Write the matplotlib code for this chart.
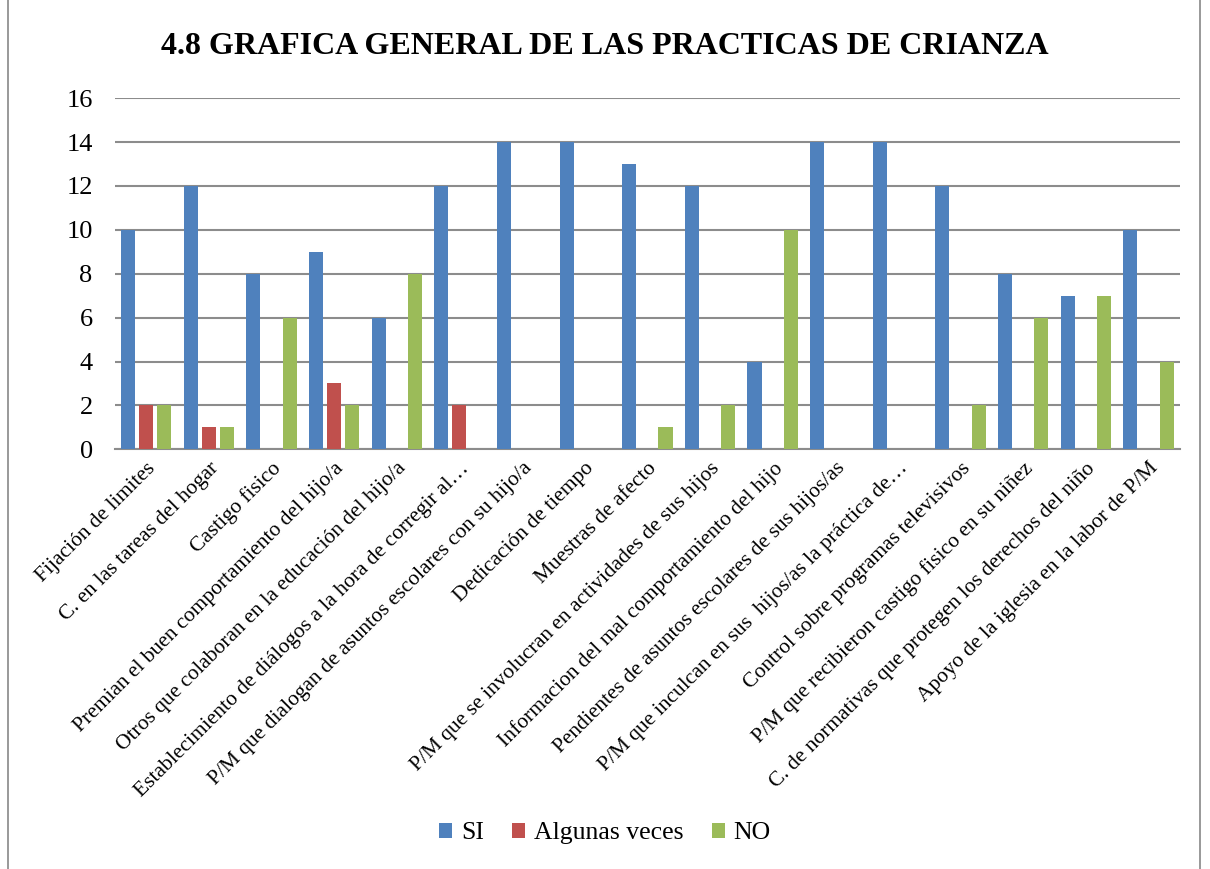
import numpy as np
import matplotlib.pyplot as plt
from matplotlib.patches import Rectangle

plt.rcParams['font.family'] = 'serif'
plt.rcParams['font.serif'] = ['Liberation Serif']
SERIF = 'Liberation Serif'

# Categories and values
categories = [
    "Fijación de limites",
    "C. en las tareas del hogar",
    "Castigo fisico",
    "Premian el buen comportamiento del hijo/a",
    "Otros que colaboran en la educación del hijo/a",
    "Establecimiento de diálogos a la hora de corregir al…",
    "P/M que dialogan de asuntos escolares con su hijo/a",
    "Dedicación de tiempo",
    "Muestras de afecto",
    "P/M que se involucran en actividades de sus hijos",
    "Informacion del mal comportamiento del hijo",
    "Pendientes de asuntos escolares de sus hijos/as",
    "P/M que inculcan en sus  hijos/as la práctica de…",
    "Control sobre programas televisivos",
    "P/M que recibieron castigo fisico en su niñez",
    "C. de normativas que protegen los derechos del niño",
    "Apoyo de la iglesia en la labor de P/M",
]
si = [10, 12, 8, 9, 6, 12, 14, 14, 13, 12, 4, 14, 14, 12, 8, 7, 10]
algunas = [2, 1, 0, 3, 0, 2, 0, 0, 0, 0, 0, 0, 0, 0, 0, 0, 0]
no = [2, 1, 6, 2, 8, 0, 0, 0, 1, 2, 10, 0, 0, 2, 6, 7, 4]

fig = plt.figure(figsize=(12.1, 8.69), dpi=100)
ax = fig.add_axes([0.095, 0.483, 0.880, 0.404])

x = np.arange(len(categories))
w = 0.225
step = 0.29
ax.bar(x - step, si, w, color="#4F81BD", label="SI", zorder=3)
ax.bar(x, algunas, w, color="#C0504D", label="Algunas veces", zorder=3)
ax.bar(x + step, no, w, color="#9BBB59", label="NO", zorder=3)

ax.set_xlim(-0.5, len(categories) - 0.5)
ax.set_ylim(0, 16)
ax.set_yticks(range(0, 17, 2))
ax.set_yticklabels([str(v) for v in range(0, 17, 2)], fontsize=19, family=SERIF)
ax.yaxis.grid(True, color="#8c8c8c", linewidth=1.5, zorder=0)
ax.tick_params(axis="y", length=0, pad=16)
ax.tick_params(axis="x", length=0, pad=7)
for s in ["top", "right", "left"]:
    ax.spines[s].set_visible(False)
ax.spines["bottom"].set_color("#8c8c8c")
ax.spines["bottom"].set_linewidth(1.5)

ax.set_xticks(x)
ax.set_xticklabels(categories, rotation=45, ha="right", rotation_mode="anchor",
                   fontsize=15.5, family=SERIF)

fig.text(0.5, 0.946, "4.8 GRAFICA GENERAL DE LAS PRACTICAS DE CRIANZA",
         ha="center", va="center", fontsize=23, fontweight="bold", family=SERIF)

fig.legend(loc="center", bbox_to_anchor=(0.5, 0.041), ncol=3, frameon=False,
           prop={"family": SERIF, "size": 18.5},
           handlelength=0.5, handleheight=0.5, columnspacing=1.1,
           handletextpad=0.35)

fig.patches.append(Rectangle((0.007, -0.01), 0.985, 1.02, transform=fig.transFigure,
                             fill=False, edgecolor="#888888", linewidth=1.2))

fig.savefig("out.png", dpi=100)
